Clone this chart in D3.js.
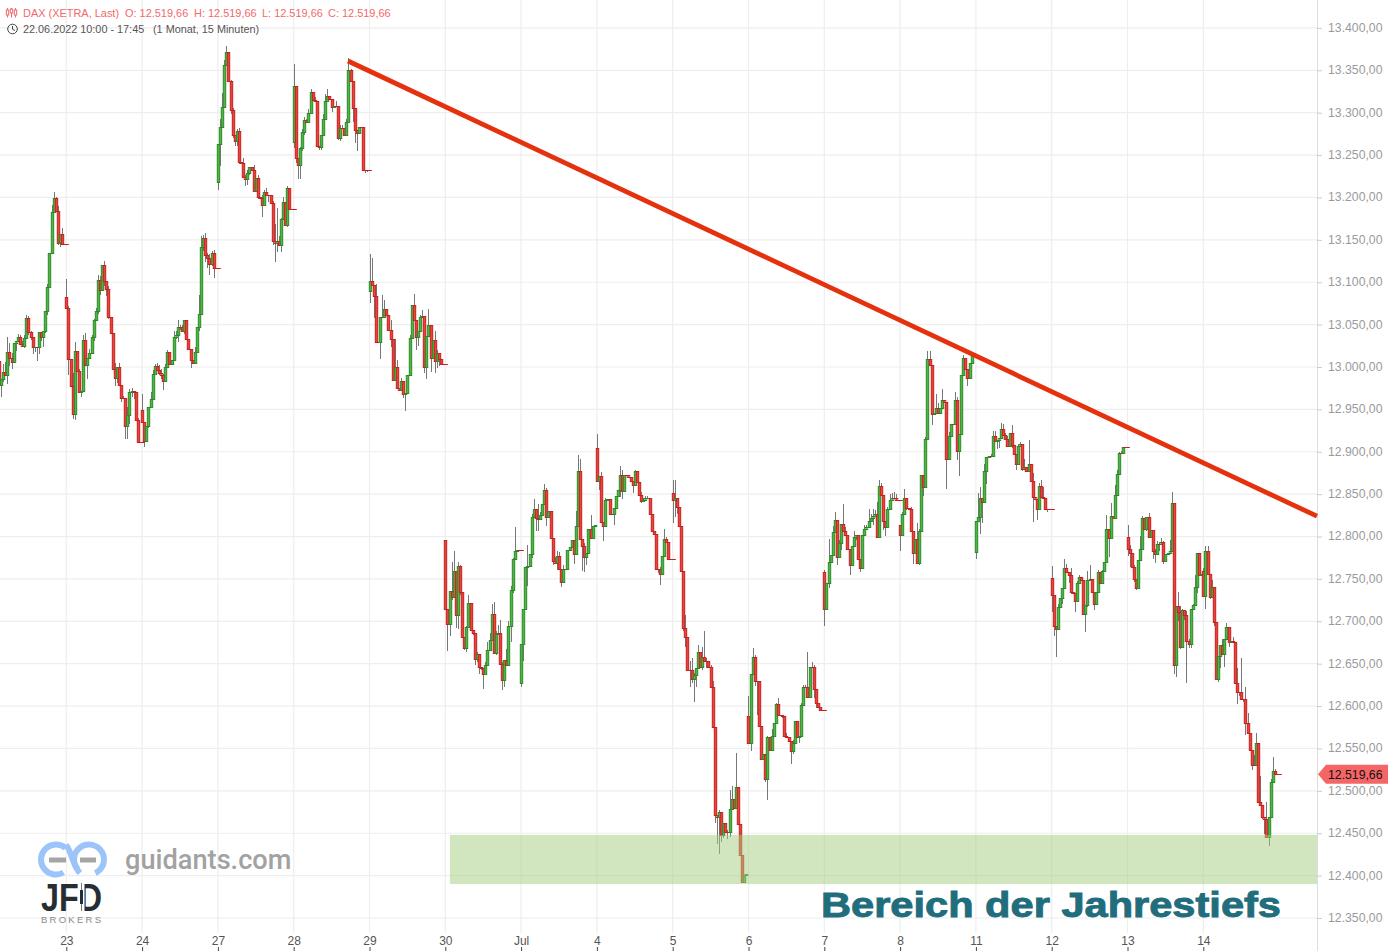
<!DOCTYPE html>
<html><head><meta charset="utf-8">
<script src="https://cdn.jsdelivr.net/npm/d3@7"></script>
<style>html,body{margin:0;padding:0;background:#fff}svg{display:block}text{font-family:"Liberation Sans",Arial,sans-serif}</style>
</head><body><svg id="c" width="1388" height="951"></svg>
<script>
const dayLabels=["22","23","24","27","28","29","30","Jul","4","5","6","7","8","11","12","13","14"];
const firstOpens=[13007,13082,12949,13218,13265,13090,12796,12627,12905,12851,12588,12758,12814,12782,12751,12800,12759];
const firstBar=[4,0,0,0,0,0,0,0,0,0,0,0,0,0,0,0,0];
const closes=[
[12979,12986,12994,12990,13018,13011,13006,13028,13031,13035,13027,13025,13034,13058,13041,13035,13023,13024,13023,13041,13035,13042,13066,13094,13135,13183,13199,13184,13146,13157,13145,13145],
[13070,13010,12978,12945,13019,12995,12970,12972,13032,13002,13011,13017,13035,13055,13066,13103,13091,13120,13102,13092,13059,13040,12998,12987,13000,12979,12964,12964,12930,12943,12970,12972,12970,12938,12912,12912],
[12935,12913,12930,12953,12962,12992,13001,12996,12993,12990,12984,13000,13018,13003,13008,13035,13038,13047,13047,13043,13055,13033,13021,13008,13005,13018,13047,13063,13141,13152,13132,13129,13122,13134,13117,13117],
[13263,13283,13307,13356,13371,13337,13303,13274,13267,13278,13242,13241,13224,13222,13229,13236,13232,13208,13223,13201,13199,13191,13207,13203,13203,13194,13149,13146,13149,13144,13174,13195,13168,13211,13186,13186],
[13332,13247,13238,13258,13277,13291,13289,13300,13324,13315,13314,13261,13259,13274,13292,13314,13320,13316,13307,13308,13308,13270,13282,13282,13274,13289,13350,13337,13305,13280,13276,13283,13283,13232,13232,13232],
[13101,13097,13084,13030,13030,13059,13059,13069,13061,13044,13033,12985,13000,12975,12973,12984,12968,12969,12990,13034,13073,13056,13035,13042,13059,13060,13000,13037,13050,13011,13032,13007,13017,13009,13003,13003],
[12715,12697,12736,12729,12759,12707,12765,12734,12681,12668,12693,12722,12690,12686,12655,12662,12646,12645,12638,12648,12666,12678,12709,12663,12685,12686,12650,12631,12654,12648,12695,12737,12773,12783,12784,12784],
[12673,12715,12764,12765,12779,12823,12833,12822,12821,12825,12838,12855,12823,12830,12798,12771,12769,12777,12762,12746,12762,12762,12784,12788,12796,12779,12812,12877,12797,12789,12776,12781,12809,12798,12813,12814],
[12865,12871,12817,12813,12843,12844,12826,12826,12834,12848,12855,12873,12854,12873,12873,12870,12865,12861,12877,12864,12849,12842,12843,12845,12846,12827,12807,12803,12762,12762,12756,12777,12797,12794,12773,12773],
[12843,12845,12835,12813,12759,12692,12681,12643,12643,12632,12637,12645,12664,12646,12658,12653,12653,12646,12623,12575,12472,12469,12475,12448,12462,12452,12452,12479,12490,12480,12505,12461,12424,12392,12401,12402],
[12557,12638,12658,12630,12629,12577,12537,12544,12514,12563,12548,12565,12580,12602,12590,12589,12588,12565,12563,12559,12547,12557,12582,12564,12565,12601,12622,12622,12611,12646,12646,12620,12604,12599,12595,12595],
[12715,12745,12770,12778,12805,12819,12776,12792,12815,12807,12802,12785,12767,12789,12799,12802,12774,12763,12802,12809,12811,12818,12822,12824,12826,12800,12860,12849,12818,12811,12833,12843,12846,12845,12843,12843],
[12802,12826,12845,12834,12833,12807,12781,12797,12769,12807,12873,12859,12915,13009,13002,12945,12946,12952,12946,12952,12961,12959,12892,12919,12933,12933,12961,12901,12921,12990,13011,12998,12987,13005,13014,13016],
[12818,12823,12846,12841,12877,12894,12895,12895,12919,12913,12914,12916,12927,12920,12915,12907,12922,12908,12897,12886,12907,12909,12880,12882,12877,12886,12865,12847,12844,12833,12860,12847,12846,12833,12832,12832],
[12731,12694,12691,12717,12728,12739,12763,12758,12755,12735,12733,12724,12745,12752,12749,12709,12719,12749,12750,12735,12721,12734,12758,12745,12759,12770,12809,12798,12824,12822,12849,12874,12898,12898,12906,12906],
[12785,12780,12764,12750,12739,12772,12785,12822,12809,12823,12800,12808,12783,12779,12791,12791,12793,12771,12779,12780,12783,12839,12648,12718,12711,12670,12713,12707,12677,12673,12715,12719,12741,12780,12755,12756],
[12730,12783,12756,12729,12741,12699,12632,12659,12672,12661,12679,12693,12675,12677,12676,12627,12617,12617,12608,12608,12580,12568,12548,12530,12530,12557,12487,12483,12469,12467,12445,12469,12510,12524,12520,12520]
];
const wickUp=[
[0,0,10,12,17,10,6,0,0,4,3,4,4,3,2,2,0,0,0,0,0,0,0,4,0,8,8,2,6,0,7,0],
[22,2,0,15,10,0,3,0,6,8,0,4,3,2,4,6,4,0,5,0,3,0,0,7,0,5,0,2,0,10,4,3,0,0,2,0],
[19,0,0,0,8,4,2,4,6,5,2,3,2,0,0,8,4,9,2,2,1,0,0,0,0,6,0,22,14,4,6,2,4,3,4,0],
[0,10,16,6,8,0,2,2,0,3,4,0,5,3,3,0,0,6,0,3,0,4,2,4,0,0,2,20,38,5,2,6,0,3,0,0],
[26,0,0,2,4,4,2,4,4,0,3,0,0,0,6,8,8,0,0,0,6,0,3,3,0,3,14,2,0,0,0,0,0,0,0,0],
[32,28,0,14,0,0,26,10,0,0,11,0,33,8,0,3,0,0,0,4,0,13,0,0,2,7,0,0,18,0,0,10,3,0,0,0],
[0,0,0,34,24,0,5,2,0,0,2,9,0,0,0,2,0,0,0,4,10,8,11,14,3,10,15,2,0,13,5,5,2,28,0,0],
[0,0,0,25,0,4,11,0,16,4,0,7,2,0,0,0,5,6,5,0,4,0,0,0,0,0,18,19,15,0,3,0,0,16,0,0],
[16,0,5,0,2,0,0,0,0,0,0,10,5,0,0,0,0,0,2,0,0,3,2,3,2,0,0,0,0,0,2,0,12,2,0,0],
[16,22,0,0,0,0,16,0,10,14,2,0,8,0,12,30,4,0,2,6,0,0,2,0,0,0,2,22,16,0,40,0,0,0,0,0],
[24,0,10,2,0,0,0,0,0,2,0,8,0,2,8,0,0,0,3,0,0,3,0,0,0,3,3,3,42,0,6,2,0,0,0,0],
[3,0,27,0,8,10,0,4,0,23,4,0,0,0,8,0,0,0,0,5,3,15,5,8,5,15,7,3,0,0,2,7,5,6,5,0],
[0,3,11,0,0,2,0,0,19,2,0,0,2,10,10,0,0,16,5,0,13,0,0,4,0,0,9,4,0,0,3,0,0,0,0,0],
[0,28,13,0,9,0,0,2,6,5,0,0,7,6,2,4,0,10,0,0,2,2,0,10,0,28,0,10,0,0,3,7,11,0,0,0],
[14,0,0,3,0,0,10,5,0,8,0,0,2,3,0,0,0,10,17,0,0,0,2,0,2,0,16,0,15,0,12,5,2,3,0,0],
[14,5,0,3,0,0,16,2,0,0,5,0,0,2,4,3,5,2,0,0,13,14,0,0,17,7,2,0,5,2,0,2,14,0,0,0],
[4,6,6,0,8,0,0,0,0,7,0,5,0,0,4,0,18,0,40,0,14,12,0,0,12,11,0,30,0,0,20,0,4,16,2,0]
];
const wickDown=[
[5,14,4,0,10,10,8,0,9,0,0,0,3,0,3,3,8,5,16,8,4,12,2,5,1,2,0,0,2,4,0,0],
[0,20,0,6,7,0,0,5,0,0,16,0,0,4,0,3,6,0,6,8,2,0,0,9,6,0,5,0,15,15,10,5,8,2,0,0],
[0,7,0,2,0,0,0,0,2,4,11,0,0,0,0,0,2,9,3,0,4,0,0,9,0,0,2,5,0,4,8,12,14,3,12,0],
[9,26,0,0,0,0,5,4,6,6,2,0,0,8,7,2,0,0,0,3,0,14,0,0,8,0,5,22,10,0,8,0,0,3,0,0],
[7,6,16,16,3,3,0,0,0,0,0,0,3,3,0,0,0,0,6,0,0,2,3,0,0,0,0,0,16,16,21,0,0,0,3,2],
[15,0,26,0,2,21,0,0,0,0,10,0,0,0,0,0,5,20,0,0,0,0,15,10,0,0,7,14,0,17,0,14,8,8,0,0],
[0,32,14,4,0,15,16,3,0,2,4,0,0,2,7,3,8,2,18,0,0,0,0,0,3,0,0,12,9,0,0,20,4,0,0,0],
[5,20,0,22,0,4,0,16,15,0,0,0,10,0,0,5,0,8,0,6,0,0,0,0,0,11,0,0,0,30,18,9,0,0,0,0],
[0,10,0,18,0,0,0,0,12,0,0,8,10,0,0,0,0,10,0,0,0,3,0,0,0,0,0,0,0,5,13,0,0,0,0,0],
[27,20,8,0,0,4,11,0,20,5,27,15,0,0,3,0,8,0,0,0,10,32,44,8,4,0,9,7,0,0,0,0,0,0,0,0],
[0,10,0,6,40,0,0,0,4,25,0,0,0,0,0,0,2,0,0,0,15,3,0,0,8,0,0,0,0,0,0,10,6,0,0,0],
[20,0,6,0,0,0,10,0,8,0,0,0,12,0,0,3,0,5,0,0,0,0,0,8,0,0,0,0,10,10,0,0,0,0,0,0],
[19,0,0,3,0,0,13,0,0,3,0,11,0,0,0,14,0,0,0,0,0,0,36,0,0,0,0,11,30,0,0,0,9,0,0,0],
[8,0,20,25,0,15,0,0,0,0,10,9,0,0,0,0,0,3,0,7,0,0,3,0,0,0,0,30,0,14,0,0,0,2,3,0],
[20,11,33,0,0,8,0,0,10,3,0,13,0,0,0,0,22,2,0,0,8,0,0,0,0,0,0,22,0,0,0,0,0,0,0,0],
[8,16,0,4,2,0,0,0,0,3,0,0,10,10,0,8,0,3,0,0,0,0,10,14,11,3,0,6,50,5,5,0,0,8,0,0],
[0,16,0,3,0,5,0,4,14,0,15,0,5,0,0,0,14,5,0,3,14,0,0,5,0,0,0,0,2,18,0,10,0,0,0,0]
];
const priceTicks=d3.range(12350,13401,50);
const barsPerDay=36;
const lastPrice=12519.66;
const trendIdx=[169.8,630], trendPrice=[13361,12824];
const zoneIdx=218.2, zonePrice=[12448,12390];
const headerOHLC=[["O:",125],["H:",194],["L:",262],["C:",328]];

const svg=d3.select("#c");
const xS=d3.scaleLinear().domain([barsPerDay,barsPerDay*16]).range([66.3,1203.3]);
const yS=d3.scaleLinear().domain([12350,13350]).range([918,70.3]);
const fmtPrice=d3.formatLocale({decimal:",",thousands:".",grouping:[3],currency:["","€"]}).format(",.2f");
const plotR=1317;
const px=v=>Math.round(v)+.5;

// rows
const rows=[];
closes.forEach((cs,d)=>{let prev=firstOpens[d];cs.forEach((c,i)=>{
  rows.push({i:d*barsPerDay+firstBar[d]+i,o:prev,c,last:i===cs.length-1,h:Math.max(prev,c)+wickUp[d][i],l:Math.min(prev,c)-wickDown[d][i]});prev=c;});});
const dayTicks=dayLabels.map((_,d)=>d*barsPerDay).filter(v=>xS(v)>0);

// grid
const grid=svg.append("g").attr("stroke","#eeeeee").attr("stroke-width",1.2);
grid.selectAll("line.h").data(priceTicks).join("line").attr("x1",0).attr("x2",plotR).attr("y1",d=>yS(d)).attr("y2",d=>yS(d));
grid.selectAll("line.v").data(dayTicks).join("line").attr("y1",0).attr("y2",933).attr("x1",d=>xS(d)).attr("x2",d=>xS(d));

// axes
const yAxis=svg.append("g").attr("transform",`translate(${plotR},0)`).call(d3.axisRight(yS).tickValues(priceTicks).tickFormat(fmtPrice).tickSize(5).tickPadding(6));
yAxis.select(".domain").attr("stroke","#dddddd").attr("d","M0.5,0V951");
yAxis.selectAll(".tick line").attr("stroke","#cccccc");
yAxis.selectAll("text").attr("fill","#9a9a9a").style("font-size","12.25px").attr("x",11).attr("y",-0.5);
const xAxis=svg.append("g").attr("transform","translate(0,947)").call(d3.axisBottom(xS).tickValues(dayTicks).tickFormat(v=>dayLabels[v/barsPerDay]).tickSize(4));
xAxis.select(".domain").remove();
xAxis.selectAll(".tick line").attr("stroke","#444");
xAxis.selectAll("text").attr("fill","#555").style("font-size","12px").attr("y",-2).attr("dy","0");

// candles
const cG=svg.append("g");
cG.append("g").selectAll("line").data(rows).join("line").attr("stroke","#777").attr("stroke-width",1)
 .attr("x1",d=>px(xS(d.i))).attr("x2",d=>px(xS(d.i))).attr("y1",d=>Math.round(yS(d.h))).attr("y2",d=>Math.round(yS(d.l)));
cG.append("g").selectAll("rect").data(rows).join("rect")
 .attr("width",d=>(d.o===d.c&&d.last)?5:2.4)
 .attr("x",d=>px(xS(d.i))-1.2)
 .attr("y",d=>px(yS(Math.max(d.o,d.c))))
 .attr("height",d=>Math.max(Math.abs(px(yS(d.o))-px(yS(d.c))),.01))
 .attr("fill",d=>d.c>d.o?"#4fb640":"#e8443c").attr("stroke",d=>d.c>d.o?"#2a8a2a":"#c8201f").attr("stroke-width",1);

// zone
svg.append("rect").attr("x",xS(zoneIdx)).attr("width",plotR-xS(zoneIdx)).attr("y",yS(zonePrice[0])).attr("height",yS(zonePrice[1])-yS(zonePrice[0])).attr("fill","#a3cd7d").attr("opacity",.5);

// trend line
svg.append("line").attr("x1",xS(trendIdx[0])).attr("y1",yS(trendPrice[0])).attr("x2",xS(trendIdx[1])).attr("y2",yS(trendPrice[1])).attr("stroke","#e5320e").attr("stroke-width",4.8);

// last price tag
const ly=yS(lastPrice);
svg.append("polygon").attr("points",`1318,${ly} 1326,${ly-9.5} 1388,${ly-9.5} 1388,${ly+9.5} 1326,${ly+9.5}`).attr("fill","#f46566");
svg.append("text").attr("x",1328).attr("y",ly+4.5).attr("fill","#111").style("font-size","12.25px").text(fmtPrice(lastPrice));

// header
const red="#f3696b";
svg.append("text").attr("x",23).attr("y",17).attr("fill",red).style("font-size","10.95px").text("DAX (XETRA, Last)");
svg.selectAll("text.ohlc").data(headerOHLC).join("text").attr("class","ohlc").attr("x",d=>d[1]).attr("y",17).attr("fill",red).style("font-size","10.95px").text(d=>d[0]+" "+fmtPrice(lastPrice));
svg.append("text").attr("x",23).attr("y",33).attr("fill","#555").style("font-size","10.85px").text("22.06.2022 10:00 - 17:45");
svg.append("text").attr("x",153).attr("y",33).attr("fill","#555").style("font-size","10.85px").text("(1 Monat, 15 Minuten)");
const ic=svg.append("g").attr("stroke",red).attr("stroke-width",1).attr("fill","none");
[[7.5,10,15],[11.5,9,13],[15.5,10,15]].forEach(a=>{ic.append("line").attr("x1",a[0]).attr("x2",a[0]).attr("y1",8).attr("y2",17.5);ic.append("rect").attr("x",a[0]-1.2).attr("y",a[1]).attr("width",2.4).attr("height",a[2]-a[1]).attr("fill","#fff");});
svg.append("circle").attr("cx",12.5).attr("cy",29).attr("r",4.8).attr("fill","none").attr("stroke","#444").attr("stroke-width",1);
svg.append("path").attr("d","M12.5,26V29.3L15,30.5").attr("fill","none").attr("stroke","#444");

// annotation
svg.append("text").attr("x",821).attr("y",917).attr("fill","#1f6d7d").attr("stroke","#1f6d7d").attr("stroke-width",.9).style("font-weight","bold").style("font-size","34.5px").attr("textLength",460).attr("lengthAdjust","spacingAndGlyphs").text("Bereich der Jahrestiefs");

// logos
const arc=d3.arc();
const blue="#9cc4fb";
const lg=svg.append("g");
const deg=Math.PI/180;
lg.append("path").attr("transform","translate(56,859.5)").attr("d",arc({innerRadius:12,outerRadius:18,startAngle:150*deg,endAngle:400*deg})).attr("fill",blue);
lg.append("path").attr("transform","translate(89,859.5)").attr("d",arc({innerRadius:12,outerRadius:18,startAngle:-130*deg,endAngle:155*deg})).attr("fill",blue);
lg.append("path").attr("d","M66,845 C71,850 73,866 80,873").attr("fill","none").attr("stroke",blue).attr("stroke-width",6);
lg.append("rect").attr("x",49).attr("y",857.5).attr("width",17).attr("height",5).attr("fill","#a5a5a5");
lg.append("rect").attr("x",80).attr("y",857.5).attr("width",16).attr("height",5).attr("fill","#a5a5a5");
svg.append("text").attr("x",125).attr("y",869).attr("fill","#a2a2a2").style("font-family","Roboto,sans-serif").style("font-weight","500").style("font-size","27.2px").text("guidants.com");
svg.append("text").attr("x",41).attr("y",911).attr("fill","#272e33").style("font-weight","700").style("font-size","39px").attr("textLength",61).attr("lengthAdjust","spacingAndGlyphs").text("JFD");
svg.append("rect").attr("x",79).attr("y",881).attr("width",5.5).attr("height",32).attr("fill","#fff");
svg.append("line").attr("x1",81.5).attr("x2",81.5).attr("y1",883).attr("y2",911).attr("stroke","#777");
svg.append("rect").attr("x",80).attr("y",890).attr("width",3).attr("height",14).attr("fill","#272e33");
svg.append("text").attr("x",41).attr("y",923).attr("fill","#8a8a8a").style("font-size","9.5px").attr("textLength",60).text("BROKERS");
</script></body></html>
